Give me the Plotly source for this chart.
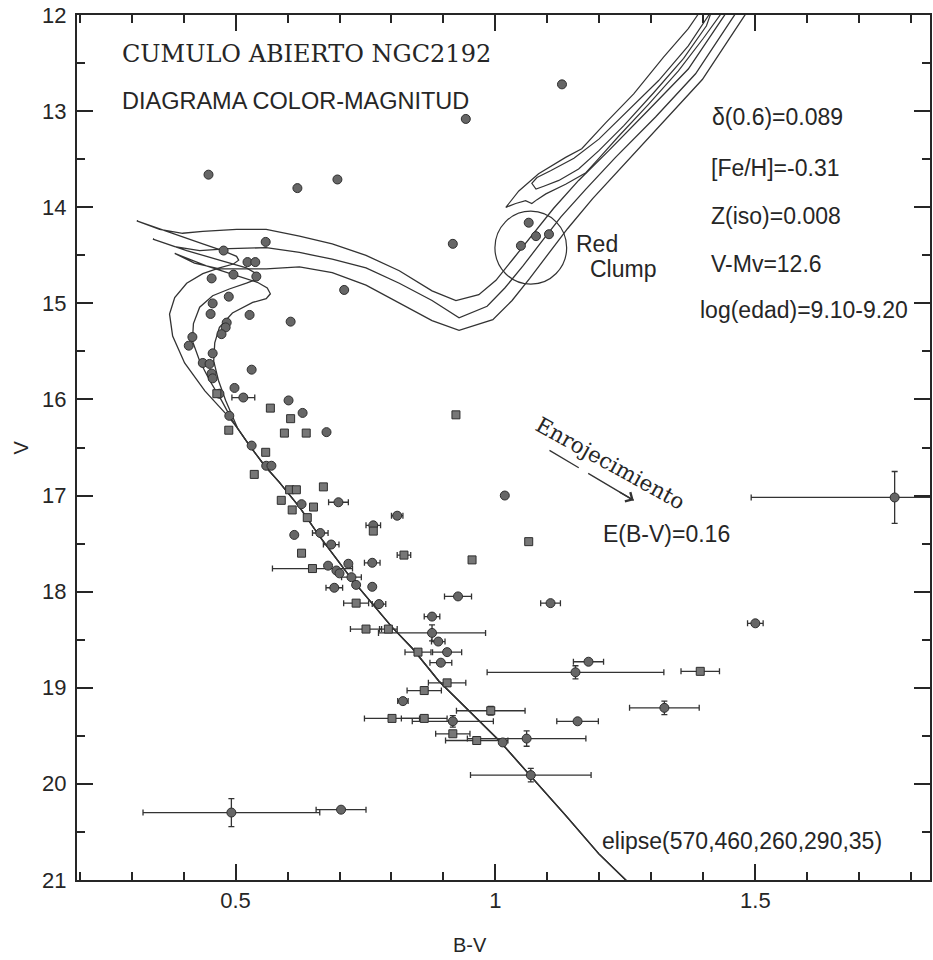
import plotly.graph_objects as go

# ---------------- Isochrones (B-V, V) ----------------
# shared lower main sequence (faint -> bright)
ms_bv = [1.256, 1.199, 1.135, 1.070, 1.007, 0.949, 0.891, 0.840, 0.801, 0.725, 0.661, 0.623, 0.584, 0.556, 0.527, 0.504]
ms_v = [21.03, 20.73, 20.33, 19.93, 19.55, 19.24, 18.93, 18.59, 18.37, 17.88, 17.42, 17.12, 16.86, 16.69, 16.48, 16.30]

# upper MS, hook, subgiant branch and RGB of the three isochrones
isoA_bv = [0.485, 0.441, 0.402, 0.379, 0.373, 0.383, 0.406, 0.437, 0.469, 0.496, 0.506, 0.502, 0.475, 0.437, 0.373, 0.310,
           0.354, 0.398, 0.437, 0.502, 0.559, 0.623, 0.686, 0.751, 0.815, 0.878, 0.924,
           0.968, 1.001, 1.035, 1.070, 1.112, 1.160, 1.218, 1.294, 1.371, 1.442, 1.458]
isoA_v = [16.17, 15.91, 15.62, 15.34, 15.11, 14.94, 14.79, 14.69, 14.63, 14.59, 14.55, 14.51, 14.45, 14.38, 14.26, 14.14,
          14.23, 14.27, 14.25, 14.23, 14.23, 14.30, 14.38, 14.50, 14.66, 14.87, 14.97,
          14.91, 14.76, 14.53, 14.29, 14.01, 13.72, 13.41, 12.99, 12.56, 11.99, 11.88]

isoB_bv = [0.492, 0.473, 0.450, 0.431, 0.417, 0.419, 0.431, 0.456, 0.488, 0.521, 0.540, 0.540, 0.521, 0.469, 0.406, 0.341,
           0.383, 0.431, 0.488, 0.559, 0.623, 0.686, 0.751, 0.815, 0.878, 0.930,
           0.984, 1.018, 1.053, 1.087, 1.126, 1.174, 1.231, 1.308, 1.385, 1.461, 1.477]
isoB_v = [16.20, 16.01, 15.80, 15.60, 15.39, 15.21, 15.04, 14.92, 14.85, 14.79, 14.75, 14.69, 14.63, 14.55, 14.45, 14.33,
          14.41, 14.45, 14.43, 14.42, 14.47, 14.54, 14.63, 14.79, 14.97, 15.15,
          15.03, 14.84, 14.61, 14.37, 14.10, 13.81, 13.48, 13.06, 12.61, 11.99, 11.88]

isoC_bv = [0.498, 0.481, 0.467, 0.458, 0.460, 0.469, 0.494, 0.533, 0.559, 0.567, 0.561, 0.542, 0.502, 0.444, 0.383,
           0.421, 0.469, 0.559, 0.623, 0.686, 0.751, 0.815, 0.878, 0.930,
           0.995, 1.032, 1.066, 1.101, 1.139, 1.187, 1.245, 1.321, 1.398, 1.481, 1.496]
isoC_v = [16.22, 16.01, 15.80, 15.60, 15.41, 15.25, 15.10, 14.99, 14.95, 14.90, 14.84, 14.78, 14.71, 14.61, 14.48,
          14.58, 14.64, 14.64, 14.62, 14.68, 14.81, 15.00, 15.18, 15.28,
          15.17, 14.97, 14.74, 14.49, 14.22, 13.91, 13.57, 13.13, 12.67, 11.99, 11.88]

# core-He-burning / AGB loops
loopA_bv = [1.406, 1.390, 1.371, 1.323, 1.266, 1.212, 1.166, 1.135, 1.083, 1.045, 1.020, 1.039, 1.058,
            1.070, 1.080, 1.097, 1.135, 1.174, 1.199, 1.237, 1.294, 1.352, 1.400, 1.433, 1.448]
loopA_v = [11.88, 11.99, 12.14, 12.44, 12.82, 13.12, 13.39, 13.48, 13.65, 13.83, 14.00, 13.96, 13.93,
           13.96, 13.92, 13.86, 13.76, 13.64, 13.49, 13.26, 12.93, 12.58, 12.24, 11.99, 11.88]
loopB_bv = [1.421, 1.406, 1.362, 1.304, 1.247, 1.199, 1.160, 1.122, 1.093, 1.078, 1.070,
            1.080, 1.106, 1.151, 1.199, 1.256, 1.314, 1.371, 1.415, 1.425]
loopB_v = [11.88, 12.11, 12.45, 12.81, 13.15, 13.41, 13.60, 13.72, 13.78, 13.81, 13.75,
           13.69, 13.62, 13.49, 13.29, 12.99, 12.68, 12.32, 11.97, 11.88]

# ---------------- Stars ----------------
circ_bv = [1.128, 0.943, 0.448, 0.619, 0.696, 0.918, 0.558, 0.477, 0.523, 0.538, 0.496, 0.540, 0.454, 0.487, 0.709,
           0.456, 0.452, 0.527, 0.606, 0.483, 0.481, 0.473, 0.417, 0.410, 0.456, 0.437, 0.450, 0.454, 0.456, 0.531,
           0.469, 0.498, 0.602, 0.629, 0.675, 0.488, 0.531, 0.559, 0.569, 1.018, 0.627, 0.613, 0.678, 0.717,
           0.694, 0.700, 0.732, 0.763, 1.014, 1.064, 1.049, 1.078, 1.103]
circ_v = [12.72, 13.08, 13.66, 13.80, 13.71, 14.38, 14.36, 14.45, 14.57, 14.57, 14.70, 14.72, 14.74, 14.93, 14.86,
          15.00, 15.11, 15.12, 15.19, 15.20, 15.25, 15.32, 15.35, 15.44, 15.52, 15.62, 15.63, 15.73, 15.78, 15.69,
          15.94, 15.88, 16.01, 16.14, 16.34, 16.17, 16.48, 16.69, 16.69, 17.00, 17.09, 17.41, 17.73, 17.71,
          17.78, 17.81, 17.93, 17.95, 19.57, 14.16, 14.40, 14.30, 14.28]

ecirc_bv = [0.515, 0.698, 0.811, 0.663, 0.765, 0.684, 0.763, 0.723, 0.690, 0.776, 0.928, 1.106, 0.878, 0.878,
            1.500, 0.890, 0.907, 0.895, 1.179, 1.154, 0.822, 1.325, 0.918, 1.158, 1.060, 1.068, 0.703, 0.492, 1.768]
ecirc_v = [15.98, 17.07, 17.21, 17.39, 17.31, 17.51, 17.70, 17.85, 17.96, 18.13, 18.05, 18.12, 18.26, 18.43,
           18.33, 18.52, 18.63, 18.74, 18.73, 18.84, 19.14, 19.21, 19.35, 19.35, 19.53, 19.91, 20.27, 20.30, 17.02]
ecirc_ebv = [0.022, 0.019, 0.011, 0.015, 0.014, 0.015, 0.015, 0.019, 0.016, 0.013, 0.026, 0.019, 0.015, 0.103,
             0.015, 0.013, 0.028, 0.021, 0.029, 0.170, 0.010, 0.067, 0.078, 0.040, 0.114, 0.116, 0.048, 0.170, 0.276]
ecirc_ev = [0, 0, 0, 0, 0, 0, 0, 0, 0, 0, 0, 0, 0, 0.083,
            0, 0, 0, 0, 0, 0.068, 0, 0.07, 0.06, 0, 0.08, 0.07, 0, 0.146, 0.27]

sq_bv = [0.567, 0.606, 0.487, 0.594, 0.636, 0.924, 0.558, 0.536, 0.604, 0.617, 0.669, 0.588, 0.650, 0.609,
         0.638, 0.765, 0.627, 0.955, 1.064, 0.464]
sq_v = [16.09, 16.20, 16.32, 16.35, 16.35, 16.16, 16.55, 16.78, 16.94, 16.94, 16.91, 17.05, 17.12, 17.15,
        17.23, 17.37, 17.60, 17.67, 17.48, 15.94]

esq_bv = [0.824, 0.648, 0.732, 0.751, 0.794, 0.851, 1.394, 0.907, 0.863, 0.991, 0.801, 0.863, 0.918, 0.964]
esq_v = [17.62, 17.76, 18.12, 18.39, 18.39, 18.63, 18.83, 18.95, 19.03, 19.24, 19.32, 19.32, 19.48, 19.55]
esq_ebv = [0.013, 0.077, 0.024, 0.030, 0.017, 0.025, 0.037, 0.036, 0.033, 0.066, 0.053, 0.044, 0.033, 0.060]
esq_ev = [0, 0, 0, 0, 0, 0, 0, 0, 0, 0.045, 0, 0, 0, 0]

# red clump circle (centre and radii) and reddening vector
clump_c = (1.068, 14.42)
clump_r = (0.069, 0.38)
redd_start = (1.104, 16.53)
redd_end = (1.266, 17.05)

INK = "#262626"
LINE = "#333333"
fig = go.Figure()

for ubv, uv in [(isoA_bv, isoA_v), (isoB_bv, isoB_v), (isoC_bv, isoC_v)]:
    fig.add_trace(go.Scatter(x=ms_bv + ubv, y=ms_v + uv, mode="lines",
                             line=dict(color=LINE, width=1.3), hoverinfo="skip", showlegend=False))
for lbv, lv in [(loopA_bv, loopA_v), (loopB_bv, loopB_v)]:
    fig.add_trace(go.Scatter(x=lbv, y=lv, mode="lines",
                             line=dict(color=LINE, width=1.2), hoverinfo="skip", showlegend=False))

# reddening vector (dashed)
fig.add_trace(go.Scatter(x=[redd_start[0], redd_end[0]], y=[redd_start[1], redd_end[1]], mode="lines",
                         line=dict(color=LINE, width=1.3, dash="34px,11px,80px"),
                         hoverinfo="skip", showlegend=False))

err_style = dict(type="data", color=LINE, thickness=1.3, width=3)
circ_marker = dict(symbol="circle", size=9, color="#666666", line=dict(color="#2e2e2e", width=1))
sq_marker = dict(symbol="square", size=8, color="#777777", line=dict(color="#2e2e2e", width=1))

fig.add_trace(go.Scatter(x=ecirc_bv, y=ecirc_v, mode="markers", marker=circ_marker,
                         error_x=dict(array=ecirc_ebv, **err_style),
                         error_y=dict(array=ecirc_ev, **err_style), showlegend=False))
fig.add_trace(go.Scatter(x=esq_bv, y=esq_v, mode="markers", marker=sq_marker,
                         error_x=dict(array=esq_ebv, **err_style),
                         error_y=dict(array=esq_ev, **err_style), showlegend=False))
fig.add_trace(go.Scatter(x=circ_bv, y=circ_v, mode="markers", marker=circ_marker, showlegend=False))
fig.add_trace(go.Scatter(x=sq_bv, y=sq_v, mode="markers", marker=sq_marker, showlegend=False))

fig.add_shape(type="circle", xref="x", yref="y",
              x0=clump_c[0] - clump_r[0], x1=clump_c[0] + clump_r[0],
              y0=clump_c[1] - clump_r[1], y1=clump_c[1] + clump_r[1],
              line=dict(color=LINE, width=1.2))

sans = "Liberation Sans, Arial, sans-serif"
serif = "DejaVu Serif, serif"


def txt(x, y, s, size=23, fam=sans, xa="left", angle=0):
    fig.add_annotation(x=x, y=y, xref="x", yref="y", text=s, showarrow=False, xanchor=xa, yanchor="middle",
                       textangle=angle, font=dict(family=fam, size=size, color=INK))


txt(0.636, 12.40, "CUMULO ABIERTO NGC2192", size=24, fam=serif, xa="center")
txt(0.277, 12.89, "DIAGRAMA COLOR-MAGNITUD", size=23.5)
txt(1.412, 13.06, "δ(0.6)=0.089")
txt(1.410, 13.59, "[Fe/H]=-0.31")
txt(1.410, 14.09, "Z(iso)=0.008")
txt(1.410, 14.59, "V-Mv=12.6")
txt(1.390, 15.07, "log(edad)=9.10-9.20")
txt(1.151, 14.38, "Red")
txt(1.179, 14.64, "Clump")
txt(1.204, 17.40, "E(B-V)=0.16")
txt(1.202, 20.60, "elipse(570,460,260,290,35)")
txt(1.222, 16.67, "Enrojecimiento", size=21.5, fam=serif, xa="center", angle=29)

# arrow head of the reddening vector
fig.add_annotation(x=redd_end[0], y=redd_end[1], ax=redd_end[0] - 0.03, ay=redd_end[1] - 0.094,
                   xref="x", yref="y", axref="x", ayref="y", text="", showarrow=True,
                   arrowhead=4, arrowsize=1.6, arrowwidth=1.3, arrowcolor=LINE)

# axis titles
fig.add_annotation(x=0.461, y=-0.0755, xref="paper", yref="paper", text="B-V", showarrow=False,
                   xanchor="center", yanchor="middle", font=dict(family=sans, size=20, color=INK))
fig.add_annotation(x=-0.0667, y=0.5, xref="paper", yref="paper", text="V", showarrow=False, textangle=-90,
                   xanchor="center", yanchor="middle", font=dict(family=sans, size=20, color=INK))

axis_common = dict(showline=True, linewidth=2, linecolor=INK, mirror="ticks", ticks="inside",
                   tickcolor=INK, tickwidth=2, ticklen=16, showgrid=False, zeroline=False,
                   tickfont=dict(family=sans, size=22, color=INK))
fig.update_xaxes(range=[0.195, 1.836], tick0=0, dtick=0.5,
                 minor=dict(dtick=0.1, tick0=0, ticks="inside", ticklen=8, tickwidth=1.5, tickcolor=INK),
                 **axis_common)
fig.update_yaxes(range=[21.002, 11.998], tick0=0, dtick=1, ticklabelstandoff=4,
                 minor=dict(dtick=0.5, tick0=0, ticks="inside", ticklen=8, tickwidth=1.5, tickcolor=INK),
                 **axis_common)

fig.update_layout(width=933, height=960, margin=dict(l=77, r=1, t=15, b=80),
                  plot_bgcolor="white", paper_bgcolor="white", showlegend=False)

fig.write_html("out.html")
